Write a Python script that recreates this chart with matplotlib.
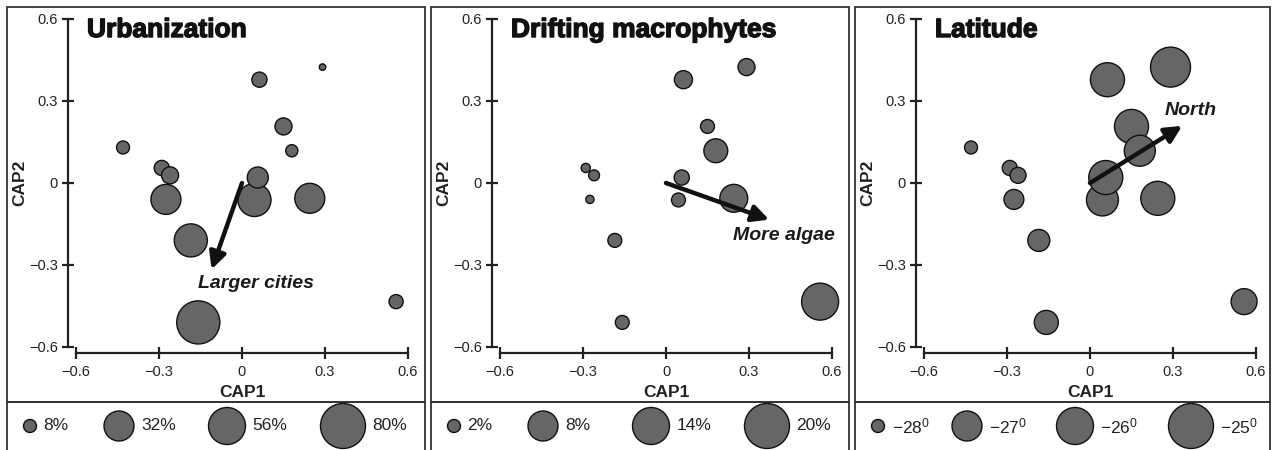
import numpy as np
import matplotlib

matplotlib.use("Agg")
import matplotlib.pyplot as plt
import matplotlib.patheffects as pe
from matplotlib.patches import Rectangle

plt.rcParams["font.family"] = ["Liberation Sans", "DejaVu Sans"]
plt.rcParams["mathtext.fontset"] = "custom"
plt.rcParams["mathtext.rm"] = "Liberation Sans"

# site scores on the two CAP axes (same sites in every panel)
cap1 = [-0.43, -0.29, -0.26, -0.275, -0.185, -0.158, 0.063, 0.291, 0.15, 0.18, 0.045, 0.057, 0.245, 0.557]
cap2 = [0.13, 0.055, 0.028, -0.06, -0.21, -0.51, 0.378, 0.424, 0.207, 0.118, -0.062, 0.02, -0.056, -0.434]

# bubble variables
urban_pct = [8, 10, 12, 32, 42, 74, 10, 2, 12, 7, 42, 17, 32, 9]
algae_pct = [0, 1.0, 1.4, 0.8, 2.2, 2.2, 3.3, 3.0, 2.2, 5.3, 2.2, 2.5, 7.0, 14]
latitude = [-28, -27.92, -27.88, -27.69, -27.57, -27.44, -26.45, -25.65, -26.45, -26.87, -26.74, -26.45, -26.45, -27.31]

titles = ["Urbanization", "Drifting macrophytes", "Latitude"]
arrow_labels = ["Larger cities", "More algae", "North"]
arrow_tips = [(-0.11, -0.316), (0.373, -0.134), (0.333, 0.209)]
label_pos = [(-0.159, -0.369), (0.243, -0.192), (0.269, 0.264)]

legend_values = [[8, 32, 56, 80], [2, 8, 14, 20], [-28, -27, -26, -25]]
legend_labels = [
    ["8%", "32%", "56%", "80%"],
    ["2%", "8%", "14%", "20%"],
    [r"$\mathregular{-28^0}$", r"$\mathregular{-27^0}$", r"$\mathregular{-26^0}$", r"$\mathregular{-25^0}$"],
]
ticks = [-0.6, -0.3, 0, 0.3, 0.6]
tick_labels = ["\u22120.6", "\u22120.3", "0", "0.3", "0.6"]

W, H, DPI = 1272, 450, 100
LEG_DIAM = np.array([13, 30, 37, 45])  # px, legend circle diameters
FACE = "#666666"
EDGE = "#111111"
AXC = "#222222"


def marker_area(values, legend_vals, from_zero):
    # bubble area (pt^2) interpolated from the legend scale
    areas = LEG_DIAM ** 2.0
    vals = np.asarray(legend_vals, float)
    if from_zero:
        vals = np.concatenate([[0], vals])
        areas = np.concatenate([[0], areas])
    a = np.interp(values, vals, areas)
    return a * (72 / DPI) ** 2


fig = plt.figure(figsize=(W / DPI, H / DPI), dpi=DPI)

box_left = [7, 431, 855]
box_right = [425, 849, 1270]
box_top, box_div = 7, 402
leg_slots = [23, 112, 220, 336]

sizes = [urban_pct, algae_pct, latitude]
for i in range(3):
    # panel frames
    bx0 = box_left[i] / W
    bw = (box_right[i] - box_left[i]) / W
    fig.add_artist(Rectangle((bx0, 1 - box_div / H), bw, (box_div - box_top) / H,
                             transform=fig.transFigure, fill=False, lw=1.3, ec="#333333"))
    fig.add_artist(Rectangle((bx0, -0.02), bw, 1 - box_div / H + 0.02,
                             transform=fig.transFigure, fill=False, lw=1.3, ec="#333333"))

    x0 = box_left[i] + 69
    ax = fig.add_axes([x0 / W, 1 - 347 / H, 332 / W, 328 / H])
    ax.set_xlim(-0.6, 0.6)
    ax.set_ylim(-0.6, 0.6)
    ax.patch.set_visible(False)
    for side in ["top", "right"]:
        ax.spines[side].set_visible(False)
    ax.spines["left"].set_position(("outward", 5.8))
    ax.spines["bottom"].set_position(("outward", 4.6))
    for side in ["left", "bottom"]:
        ax.spines[side].set_bounds(-0.6, 0.6)
        ax.spines[side].set_linewidth(1.6)
        ax.spines[side].set_color(AXC)
    ax.set_xticks(ticks)
    ax.set_xticklabels(tick_labels)
    ax.set_yticks(ticks)
    ax.set_yticklabels(tick_labels)
    ax.tick_params(direction="inout", length=8.5, width=1.6, color=AXC,
                   labelsize=10.5, labelcolor="#222222")
    ax.tick_params(axis="x", pad=4)
    ax.tick_params(axis="y", pad=3)

    ax.text(0.5, -0.140, "CAP1", transform=ax.transAxes, ha="center", va="center",
            fontsize=12.5, fontweight="bold", color="#222222")
    ax.text(-0.169, 0.5, "CAP2", transform=ax.transAxes, ha="center", va="center",
            rotation=90, fontsize=12.5, fontweight="bold", color="#222222")
    ax.text(0.033, 1.003, titles[i], transform=ax.transAxes, ha="left", va="top",
            fontsize=19, fontweight="bold", color="#111111",
            path_effects=[pe.withStroke(linewidth=1.0, foreground="#111111")])

    s = marker_area(sizes[i], legend_values[i], from_zero=(i < 2))
    ax.scatter(cap1, cap2, s=s, c=FACE, edgecolors=EDGE, linewidths=1.0,
               clip_on=False, zorder=3)

    tx, ty = arrow_tips[i]
    ax.annotate("", xy=(tx, ty), xytext=(0, 0),
                arrowprops=dict(arrowstyle="-|>,head_length=1.0,head_width=0.5",
                                lw=3.2, color="#111111", shrinkA=0, shrinkB=0),
                zorder=4)
    lx, ly = label_pos[i]
    ax.text(lx, ly, arrow_labels[i], ha="left", va="center", fontsize=14,
            fontweight="bold", fontstyle="italic", color="#1a1a1a", zorder=5)

    # size legend strip below the panel
    lax = fig.add_axes([bx0, 0, bw, 1 - box_div / H])
    lax.set_xlim(0, box_right[i] - box_left[i])
    lax.set_ylim(H, box_div)
    lax.axis("off")
    ls = marker_area(legend_values[i], legend_values[i], from_zero=False)
    lax.scatter(leg_slots, [426] * 4, s=ls, c=FACE, edgecolors=EDGE, linewidths=1.0,
                clip_on=False)
    for cx, d, lab in zip(leg_slots, LEG_DIAM, legend_labels[i]):
        lax.text(cx + d / 2 + 7, 426, lab, ha="left", va="center", fontsize=12.5,
                 color="#222222")

fig.savefig("out.png", dpi=DPI)
